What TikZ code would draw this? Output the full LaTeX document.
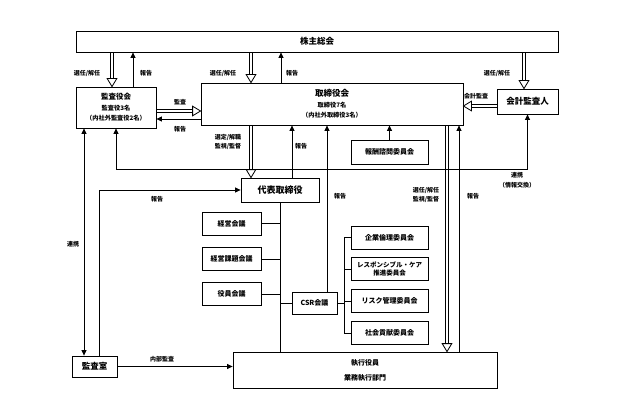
\documentclass[tikz,border=0pt]{standalone}
\usepackage{fontspec}
\setmainfont{Noto Sans CJK JP}
\usetikzlibrary{
  arrows.meta,
  positioning,  % below=of
  calc,         % hollow arrow heads
}
\newcommand{\jpbig}{\fontsize{8.5}{10.5}\selectfont\bfseries}
\newcommand{\jpmid}{\fontsize{7}{10.5}\selectfont\bfseries}
\newcommand{\jpsub}{\fontsize{6.2}{10.5}\selectfont\bfseries}
\newcommand{\jplbl}{\fontsize{6}{9.5}\selectfont\bfseries}
% White arrow with open head, from #1 to #2
\newcommand{\hollowarrow}[2]{
  \draw ($(#1)!1.8pt!-90:(#2)$) -- ($(#2)!8pt!(#1)!1.8pt!90:(#1)$)
        ($(#1)!1.8pt!90:(#2)$) -- ($(#2)!8pt!(#1)!1.8pt!-90:(#1)$);
  \draw[fill=white] ($(#2)!8pt!(#1)!4.8pt!90:(#1)$) -- (#2)
    -- ($(#2)!8pt!(#1)!4.8pt!-90:(#1)$) -- cycle;
}
\tikzset{
  >={Triangle[length=5.5pt,width=5pt]},
  my box/.style={
    draw,
    rectangle,
    inner sep=0.5mm,
    align=center,
    font=\jpmid
  },
  my side box/.style={
    my box,
    minimum width=59pt,
    minimum height=23pt
  },
  my cmte box/.style={
    my box,
    minimum width=77pt,
    minimum height=23pt
  },
  my label/.style={
    inner sep=0pt,
    align=center,
    font=\jplbl
  }
}
\begin{document}
\begin{tikzpicture}[x=1pt,y=-1pt,line width=0.8pt,node distance=8pt]
\useasboundingbox (0,0) rectangle (619,420);
\node[my box,minimum width=482pt,minimum height=21pt,font=\jpbig] (soukai) at (317,41.5) {株主総会};
\node[my box,minimum width=80pt,minimum height=41pt,font=\jpsub] (kansa) at (116,107.5)
  {{\fontsize{7.5}{10.5}\selectfont 監査役会}\\監査役3名\\（内社外監査役2名）};
\node[my box,minimum width=262pt,minimum height=42pt,font=\jpsub] (tori) at (332,104)
  {{\jpbig 取締役会}\\取締役7名\\（内社外取締役3名）};
\node[my box,minimum width=61pt,minimum height=25pt,font=\jpbig] (kaikei) at (527.5,101.5) {会計監査人};
\node[my box,minimum width=78pt,minimum height=24pt,font=\fontsize{9}{11}\selectfont\bfseries] (daihyo) at (280,190) {代表取締役};
\node[my cmte box,minimum height=24pt] (houshu) at (389.5,152) {報酬諮問委員会};
\node[my side box] (keiei) at (231.5,223.5) {経営会議};
\node[my side box] (kadai) [below=12pt of keiei] {経営課題会議};
\node[my side box] (yakuin) [below=11pt of kadai] {役員会議};
\node[my box,minimum width=45pt,minimum height=22pt] (csr) at (314.5,303) {CSR会議};
\node[my cmte box] (rinri) at (389.5,237.5) {企業倫理委員会};
\node[my cmte box,font=\fontsize{6.5}{8}\selectfont\bfseries] (rc) [below=of rinri] {レスポンシブル・ケア\\推進委員会};
\node[my cmte box] (risk) [below=of rc] {リスク管理委員会};
\node[my cmte box] (shakai) [below=of risk] {社会貢献委員会};
\node[my box,minimum width=45pt,minimum height=21pt,font=\jpbig] (shitsu) at (94.5,366.5) {監査室};
\node[my box,minimum width=264pt,minimum height=36pt,font=\fontsize{7}{15}\selectfont\bfseries] (shikko) at (365,370) {執行役員\\業務執行部門};
% 株主総会
\hollowarrow{soukai.south -| 112,0}{kansa.north -| 112,0}
\draw[->] (kansa.north -| 133,0) -- (soukai.south -| 133,0);
\hollowarrow{soukai.south -| 251,0}{tori.north -| 251,0}
\draw[->] (tori.north -| 281,0) -- (soukai.south -| 281,0);
\hollowarrow{soukai.south -| 524,0}{kaikei.north -| 524,0}
% 監査役会, 会計監査人
\hollowarrow{kansa.east |- 0,111}{tori.west |- 0,111}
\draw[->] (tori.west |- 0,119) -- (kansa.east |- 0,119);
\hollowarrow{kaikei.west |- 0,106}{tori.east |- 0,106}
\draw[<->] (kansa.south) -- (kansa.south |- 0,169) -| (kaikei.south);
\draw[<->] (kansa.south -| 84,0) -- (shitsu.north -| 84,0);
% 取締役会
\hollowarrow{tori.south -| 251,0}{daihyo.north -| 251,0}
\draw[->] (daihyo.north -| 292,0) -- (tori.south -| 292,0);
\draw[->] (houshu.north) -- (houshu.north |- tori.south);
\draw[->] (csr.north -| 327,0) -- (tori.south -| 327,0);
\hollowarrow{tori.south -| 447,0}{shikko.north -| 447,0}
\draw[->] (shikko.north -| 459,0) -- (tori.south -| 459,0);
% 代表取締役
\draw (daihyo.south) -- (daihyo.south |- shikko.north);
\foreach \n in {keiei,kadai,yakuin}
  \draw (\n.east) -- (\n.east -| daihyo.south);
\draw (csr.west) -- (csr.west -| daihyo.south);
\draw (csr.east) -- (csr.east -| 344,0);
\draw (rinri.west -| 344,0) -- (shakai.west -| 344,0);
\foreach \n in {rinri,rc,risk,shakai}
  \draw (\n.west) -- (\n.west -| 344,0);
% 監査室
\draw[->] (shitsu.north -| 99,0) |- (daihyo.west);
\draw[->] (shitsu.east) -- (shikko.west |- shitsu.east);
% labels
\node[my label] (lb1) at (87,73) {選任/解任};
\node[my label] (lb2) at (146,73) {報告};
\node[my label] (lb3) at (223,73) {選任/解任};
\node[my label] (lb4) at (292,73) {報告};
\node[my label] (lb5) at (497,73) {選任/解任};
\node[my label] (lb6) at (180,102) {監査};
\node[my label] (lb7) at (180,129) {報告};
\node[my label] (lb8) at (476,96) {会計監査};
\node[my label] (lb9) at (228,142) {選定/解職\\監視/監督};
\node[my label] (lb10) at (301,146) {報告};
\node[my label] (lb11) at (157,199) {報告};
\node[my label] (lb12) at (73,244) {連携};
\node[my label] (lb13) at (340,196) {報告};
\node[my label] (lb14) at (426,195) {選任/解任\\監視/監督};
\node[my label] (lb15) at (473,196) {報告};
\node[my label] (lb16) at (517,180) {連携\\（情報交換）};
\node[my label] (lb17) at (162,359) {内部監査};
\end{tikzpicture}
\end{document}
